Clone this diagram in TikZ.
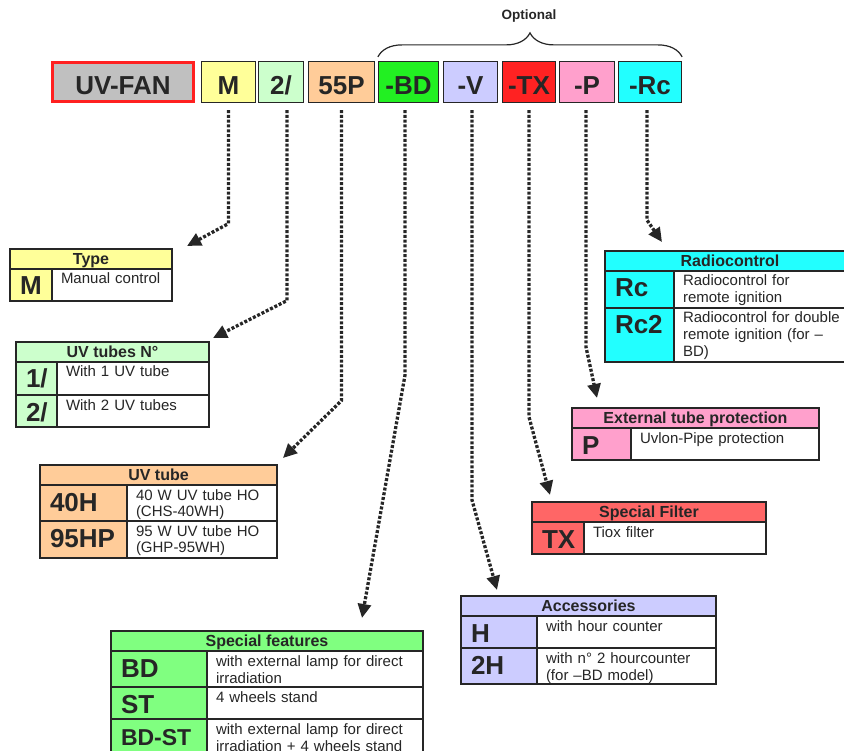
\documentclass[tikz,border=0pt]{standalone}
\usepackage{fontspec}
\setmainfont{Liberation Sans}
\usepackage{tikz}
\usetikzlibrary{arrows.meta,decorations.pathreplacing}

\definecolor{ink}{HTML}{262626}
\definecolor{fanred}{HTML}{FF2020}
\definecolor{fangray}{HTML}{C0C0C0}
\definecolor{typeyellow}{HTML}{FFFF99}
\definecolor{countgreen}{HTML}{CCFFCC}
\definecolor{tubepeach}{HTML}{FFCC99}
\definecolor{bdgreen}{HTML}{22F022}
\definecolor{featgreen}{HTML}{80FF80}
\definecolor{accblue}{HTML}{CCCCFF}
\definecolor{txred}{HTML}{FF2222}
\definecolor{filterred}{HTML}{FF6666}
\definecolor{pipepink}{HTML}{FFA0CC}
\definecolor{radiocyan}{HTML}{22FFFF}

\begin{document}
\begin{tikzpicture}[x=1pt, y=-1pt,
	code/.style={draw=ink, line width=1.2pt, fill=#1, minimum height=41pt, inner sep=0pt, text height=25pt, text depth=0pt, font=\fontsize{26}{26}\selectfont\bfseries, text=ink},
	head/.style 2 args={draw=ink, line width=1.2pt, fill=#1, anchor=north west, outer sep=0pt, inner sep=0pt, minimum width=#2, minimum height=20pt, text height=11.5pt, text depth=0pt, font=\fontsize{16}{16}\selectfont\bfseries, text=ink},
	cell/.style={draw=ink, line width=1.2pt, anchor=north west, outer sep=0pt, inner ysep=0pt, align=left, text=ink},
	key/.style n args={3}{cell, fill=#1, text width=#2-20pt, inner xsep=10pt, text height=26pt, text depth=#3-26pt, font=\fontsize{26}{26}\selectfont\bfseries},
	desc/.style 2 args={cell, fill=white, text width=#1-18pt, inner xsep=9pt, text height=15pt, text depth=#2-15pt, font=\fontsize{15}{17}\selectfont},
	link/.style={draw=ink, line width=3.3pt, dash pattern=on 3pt off 1.8pt, shorten <=7pt, -{Triangle[length=14pt,width=13pt]}}]
	\useasboundingbox (0,0) rectangle (844,751);

	\node[code=fangray, draw=fanred, line width=3pt, minimum width=141pt, minimum height=39pt](UVFAN) at (123,82){UV-FAN};
	\node[code=typeyellow, minimum width=54pt, right of=UVFAN, node distance=105.5pt](M){M};
	\node[code=countgreen, minimum width=45pt, right of=M, node distance=52.5pt](N2){2/};
	\node[code=tubepeach, minimum width=66pt, right of=N2, node distance=60.5pt](P55){55P};
	\node[code=bdgreen, minimum width=60pt, right of=P55, node distance=67pt](BD){-BD};
	\node[code=accblue, minimum width=54pt, right of=BD, node distance=62pt](V){-V};
	\node[code=txred, minimum width=53pt, right of=V, node distance=58.5pt](TX){-TX};
	\node[code=pipepink, minimum width=55pt, right of=TX, node distance=58pt](P){-P};
	\node[code=radiocyan, minimum width=63pt, right of=P, node distance=63pt](Rc){-Rc};

	\draw[ink, line width=1.2pt, decorate, decoration={brace, amplitude=24pt}] ([yshift=4pt]BD.north west) -- ([yshift=4pt]Rc.north east);
	\node[font=\fontsize{13.5}{13.5}\selectfont\bfseries, text=ink](OPT) at (529,16){Optional};

	\node[head={typeyellow}{162pt}](TypeHead) at (10,249){Type};
	\node[key={typeyellow}{42pt}{32pt}](TypeM) at (TypeHead.south west){M};
	\node[desc={120pt}{32pt}](TypeMd) at (TypeM.north east){Manual control};

	\node[head={countgreen}{193pt}](CountHead) at (16,342){UV tubes N°};
	\node[key={countgreen}{41pt}{33pt}](Count1) at (CountHead.south west){1/};
	\node[desc={152pt}{33pt}](Count1d) at (Count1.north east){With 1 UV tube};
	\node[key={countgreen}{41pt}{32pt}](Count2) at (Count1.south west){2/};
	\node[desc={152pt}{32pt}](Count2d) at (Count2.north east){With 2 UV tubes};

	\node[head={tubepeach}{237pt}](TubeHead) at (40,465){UV tube};
	\node[key={tubepeach}{87pt}{36pt}](Tube40) at (TubeHead.south west){40H};
	\node[desc={150pt}{36pt}](Tube40d) at (Tube40.north east){40 W UV tube HO\\(CHS-40WH)};
	\node[key={tubepeach}{87pt}{37pt}](Tube95) at (Tube40.south west){95HP};
	\node[desc={150pt}{37pt}](Tube95d) at (Tube95.north east){95 W UV tube HO\\(GHP-95WH)};

	\node[head={featgreen}{312pt}](FeatHead) at (111,631){Special features};
	\node[key={featgreen}{96pt}{36pt}](FeatBD) at (FeatHead.south west){BD};
	\node[desc={216pt}{36pt}](FeatBDd) at (FeatBD.north east){with external lamp for direct\\irradiation};
	\node[key={featgreen}{96pt}{32pt}](FeatST) at (FeatBD.south west){ST};
	\node[desc={216pt}{32pt}](FeatSTd) at (FeatST.north east){4 wheels stand};
	\node[key={featgreen}{96pt}{38pt}, font=\fontsize{23}{23}\selectfont\bfseries](FeatBDST) at (FeatST.south west){BD-ST};
	\node[desc={216pt}{38pt}](FeatBDSTd) at (FeatBDST.north east){with external lamp for direct\\irradiation + 4 wheels stand};

	\node[head={accblue}{255pt}](AccHead) at (461,596){Accessories};
	\node[key={accblue}{76pt}{32pt}](AccH) at (AccHead.south west){H};
	\node[desc={179pt}{32pt}](AccHd) at (AccH.north east){with hour counter};
	\node[key={accblue}{76pt}{36pt}](Acc2H) at (AccH.south west){2H};
	\node[desc={179pt}{36pt}](Acc2Hd) at (Acc2H.north east){with n° 2 hourcounter\\(for –BD model)};

	\node[head={filterred}{234pt}](FilterHead) at (532,502){Special Filter};
	\node[key={filterred}{52pt}{32pt}](FilterTX) at (FilterHead.south west){TX};
	\node[desc={182pt}{32pt}](FilterTXd) at (FilterTX.north east){Tiox filter};

	\node[head={pipepink}{247pt}](PipeHead) at (572,408){External tube protection};
	\node[key={pipepink}{59pt}{32pt}](PipeP) at (PipeHead.south west){P};
	\node[desc={188pt}{32pt}](PipePd) at (PipeP.north east){Uvlon-Pipe protection};

	\node[head={radiocyan}{250pt}](RadioHead) at (605,251){Radiocontrol};
	\node[key={radiocyan}{69pt}{37pt}](RadioRc) at (RadioHead.south west){Rc};
	\node[desc={181pt}{37pt}](RadioRcd) at (RadioRc.north east){Radiocontrol for\\remote ignition};
	\node[key={radiocyan}{69pt}{54pt}](RadioRc2) at (RadioRc.south west){Rc2};
	\node[desc={181pt}{54pt}](RadioRc2d) at (RadioRc2.north east){Radiocontrol for double\\remote ignition (for –\\BD)};

	\coordinate (TypeTip) at (187,246);
	\coordinate (CountTip) at (213,338);
	\coordinate (TubeTip) at (283,458);
	\coordinate (FeatTip) at (362,618);
	\coordinate (AccTip) at (497,590);
	\coordinate (FilterTip) at (550,495);
	\coordinate (PipeTip) at (597,398);
	\coordinate (RadioTip) at (662,242);

	\draw[link] (M.south) -- ++(0,120.5) -- (TypeTip);
	\draw[link] ([xshift=6pt]N2.south) -- ++(0,197.5) -- (CountTip);
	\draw[link] (P55.south) -- ++(0,297.5) -- (TubeTip);
	\draw[link] ([xshift=-3.5pt]BD.south) -- ++(0,272) -- (FeatTip);
	\draw[link] ([xshift=1.5pt]V.south) -- ++(0,397) -- (AccTip);
	\draw[link] (TX.south) -- ++(0,314) -- (FilterTip);
	\draw[link] ([xshift=-1pt]P.south) -- ++(0,244) -- (PipeTip);
	\draw[link] ([xshift=-3pt]Rc.south) -- ++(0,117) -- (RadioTip);
\end{tikzpicture}
\end{document}
